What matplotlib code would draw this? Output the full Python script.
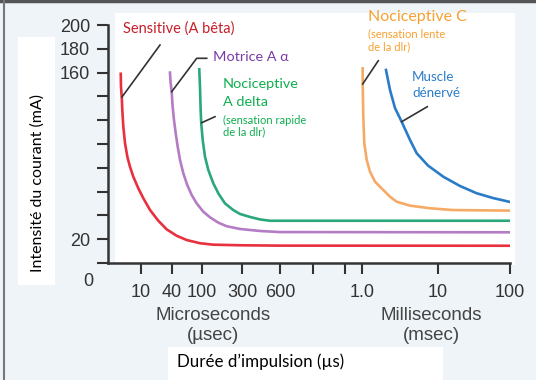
import numpy as np
import matplotlib
matplotlib.use("Agg")
import matplotlib.pyplot as plt
from matplotlib.patches import Rectangle
from matplotlib.lines import Line2D

# ---------------- data ----------------
# x axis: pulse duration in microseconds (schematic, non-uniform axis)
tick_us = [10, 40, 100, 300, 600, 750, 900, 1000, 10000, 100000]
tick_labels = ["10", "40", "100", "300", "600", "", "", "1.0", "10", "100"]
y_ticks = [0, 20, 40, 60, 80, 100, 120, 140, 160, 180, 200]
y_tick_labels = ["", "20", "", "", "", "", "", "", "160", "180", "200"]

# curves: duration (µs) and current intensity (mA)
red_x = [4.06, 4.10, 4.24, 4.35, 4.55, 4.91, 5.44, 6.12, 7.10, 8.87, 11.1, 15.0,
         21.7, 31.5, 46.1, 62.7, 94, 136, 284, 600, 100000]
red_y = [159, 148.2, 139.7, 128.6, 114.5, 100.6, 89.3, 80.9, 72.5, 62.8, 54.4, 44.5,
         35.5, 28.3, 22.9, 19.3, 16.6, 15.4, 14.9, 14.6, 14.5]

purple_x = [36.5, 37.7, 39.4, 40.8, 42.5, 44.8, 47.6, 51.1, 56.5, 63.8, 73, 85,
            103.6, 124.5, 156.6, 197, 284, 417, 600, 100000]
purple_y = [160, 151, 144, 131.3, 120.2, 109, 97.8, 86.6, 75.4, 65.5, 57.1, 50.1,
            43.1, 38.4, 33.9, 30.9, 28.6, 26.9, 26.0, 25.8]

green_x = [92, 94, 96, 97.7, 101.9, 108.6, 119, 136.5, 156.7, 188, 236, 284,
           347, 417, 500, 100000]
green_y = [162.8, 148.2, 128.6, 117.4, 103.4, 89.3, 78.1, 66.9, 58.5, 50.1, 44.5, 41.2,
           38.7, 36.6, 35.5, 35.5]

orange_x = [1021, 1022, 1040, 1072, 1153, 1274, 1483, 1906, 2336, 2862, 4284, 7850,
            16150, 100000]
orange_y = [163.6, 150.4, 122.9, 100.6, 86.6, 76.7, 68.3, 61.3, 55.7, 51.5, 48.2, 46.0,
            44.5, 44.0]

blue_x = [2069, 2336, 2716, 3325, 4284, 5248, 7380, 11850, 20220, 34480, 58100, 100000]
blue_y = [162.2, 145.4, 130.3, 118.7, 103.4, 92.2, 81.9, 72.5, 64.7, 58.6, 54.6, 51.3]

# ---------------- layout helpers ----------------
W, H = 536, 380
def fx(px):
    return px / W
def fy(py):
    return 1 - py / H

# pixel positions of the tick values on the original schematic axis
tick_pos = [141, 172, 202, 242, 280, 313, 345, 362, 438, 510]
anchor_log = np.log10([0.01, 2.3] + tick_us + [1e7])
anchor_pos = np.array([-14, 108] + tick_pos + [654], dtype=float)

def fwd(x):
    x = np.clip(np.asarray(x, dtype=float), 1e-6, None)
    return np.interp(np.log10(x), anchor_log, anchor_pos)

def inv(p):
    return 10 ** np.interp(np.asarray(p, dtype=float), anchor_pos, anchor_log)

fig = plt.figure(figsize=(5.36, 3.80), dpi=100, facecolor="#eef4f8")

# white panels of the scanned figure (behind the axes)
for (x0, y0, x1, y1) in [(115, 13, 515, 265), (18, 37, 55, 285), (168, 347, 443, 380)]:
    fig.patches.append(Rectangle((fx(x0), fy(y1)), (x1 - x0) / W, (y1 - y0) / H,
                                 transform=fig.transFigure, facecolor="white",
                                 edgecolor="none", zorder=-5))
# scan borders
fig.add_artist(Line2D([0, 1], [fy(1.2), fy(1.2)], transform=fig.transFigure,
                      color="#555555", lw=2.5, zorder=-4))
fig.add_artist(Line2D([fx(4), fx(4)], [0, 1], transform=fig.transFigure,
                      color="#777777", lw=1.5, zorder=-4))

ax = fig.add_axes([fx(108), fy(263), (510 - 108) / W, (263 - 25) / H])
ax.set_facecolor("none")
ax.set_zorder(1)
ax.set_xscale("function", functions=(fwd, inv))
ax.set_xlim(2.3, 100000)
ax.set_ylim(0, 200)

lw = 1.9
ax.plot(red_x, red_y, color="#e8303e", lw=lw, solid_joinstyle="round")
ax.plot(purple_x, purple_y, color="#b47cc4", lw=lw, solid_joinstyle="round")
ax.plot(green_x, green_y, color="#2aa87a", lw=lw, solid_joinstyle="round")
ax.plot(orange_x, orange_y, color="#f6aa66", lw=lw, solid_joinstyle="round")
ax.plot(blue_x, blue_y, color="#2a7cc8", lw=lw, solid_joinstyle="round")

for s in ["top", "right"]:
    ax.spines[s].set_visible(False)
for s in ["left", "bottom"]:
    ax.spines[s].set_color("#333333")
    ax.spines[s].set_linewidth(1.8)

tick_font = dict(family="Liberation Sans", size=13)
cap_font = dict(family="Liberation Sans", size=13.5)
ax.set_xticks(tick_us)
ax.set_xticklabels(tick_labels, fontdict=tick_font, color="#333333")
ax.xaxis.set_minor_locator(matplotlib.ticker.NullLocator())
ax.set_yticks(y_ticks)
ax.set_yticklabels(y_tick_labels, fontdict=tick_font, color="#333333")
ax.tick_params(axis="both", direction="out", length=8, width=1.5, color="#333333")
ax.tick_params(axis="x", pad=7)
ax.tick_params(axis="y", pad=5)

# "0" label of the y axis sits at the level of the x tick labels
fig.text(fx(88), fy(282), "0", ha="center", va="center", color="#333333", **tick_font)

# axis unit captions
fig.text(fx(213), fy(316), "Microseconds", ha="center", va="center", color="#444444", **cap_font)
fig.text(fx(213), fy(336), "(µsec)", ha="center", va="center", color="#444444", **cap_font)
fig.text(fx(431), fy(316), "Milliseconds", ha="center", va="center", color="#444444", **cap_font)
fig.text(fx(431), fy(335), "(msec)", ha="center", va="center", color="#444444", **cap_font)

lab_font = "Lato"
fig.text(fx(177), fy(362), "Durée d’impulsion (µs)", ha="left", va="center",
         family=lab_font, size=12.2, color="black")
fig.text(fx(38), fy(183), "Intensité du courant (mA)", ha="center", va="center",
         rotation=90, family=lab_font, size=11.5, color="black")

# curve labels
fig.text(fx(123), fy(29), "Sensitive (A bêta)", ha="left", va="center",
         family=lab_font, size=10.5, color="#c81e2a")
fig.text(fx(213), fy(57), "Motrice A α", ha="left", va="center",
         family=[lab_font, "DejaVu Sans"], size=10.4, color="#7b3aa6")
fig.text(fx(223), fy(84), "Nociceptive", ha="left", va="center",
         family=lab_font, size=10.4, color="#0fae50")
fig.text(fx(223), fy(102), "A delta", ha="left", va="center",
         family=lab_font, size=10.4, color="#0fae50")
fig.text(fx(223), fy(120), "(sensation rapide", ha="left", va="center",
         family=lab_font, size=8, color="#0fae50")
fig.text(fx(223), fy(132), "de la dlr)", ha="left", va="center",
         family=lab_font, size=8, color="#0fae50")
fig.text(fx(368), fy(17), "Nociceptive C", ha="left", va="center",
         family=lab_font, size=11.5, color="#f7a030")
fig.text(fx(368), fy(34), "(sensation lente", ha="left", va="center",
         family=lab_font, size=8, color="#f7a030")
fig.text(fx(368), fy(47), "de la dlr)", ha="left", va="center",
         family=lab_font, size=8, color="#f7a030")
fig.text(fx(412), fy(77), "Muscle", ha="left", va="center",
         family=lab_font, size=9.6, color="#2a7cc8")
fig.text(fx(412), fy(93), "dénervé", ha="left", va="center",
         family=lab_font, size=9.6, color="#2a7cc8")

# leader lines (figure pixel coordinates)
leaders = [
    [(122, 97), (160, 45)],
    [(171.7, 91.7), (196.7, 58.3), (206.7, 58.3)],
    [(201.7, 122.7), (215, 116.7)],
    [(362.7, 84), (378.3, 60.7)],
    [(401.7, 121.7), (427.3, 106.7)],
]
for pts in leaders:
    xs = [fx(p[0]) for p in pts]
    ys = [fy(p[1]) for p in pts]
    fig.add_artist(Line2D(xs, ys, transform=fig.transFigure, color="#333333", lw=1.2, zorder=3))

fig.savefig("out.png", dpi=100, facecolor=fig.get_facecolor())
